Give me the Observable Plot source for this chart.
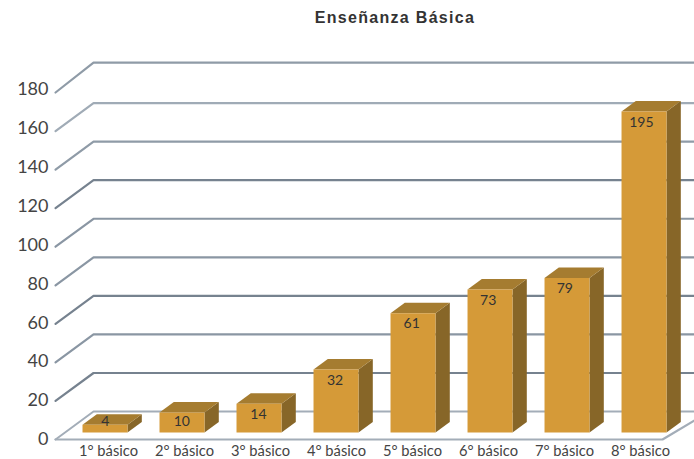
<!DOCTYPE html>
<html><head><meta charset="utf-8">
<script src="https://cdn.jsdelivr.net/npm/d3@7"></script>
<script src="https://cdn.jsdelivr.net/npm/@observablehq/plot@0.6"></script>
<style>
html,body{margin:0;padding:0;background:#fff}
#title{height:36px;width:694px;box-sizing:border-box;padding-left:96px;text-align:center;font:bold 16px/36px "Liberation Sans",sans-serif;letter-spacing:1.3px;color:#333}
svg{display:block}
</style></head><body>
<div id="title">Enseñanza Básica</div>
<div id="chart"></div>
<script>
const categories = ["1° básico","2° básico","3° básico","4° básico","5° básico","6° básico","7° básico","8° básico"];
const valueLabels = [4,10,14,32,61,73,79,195];
// bar heights as read against the axis (the last bar is labelled 195 but is drawn near 166)
const barHeights = [4.1,10.4,14.9,32.7,61.9,74.2,80.2,166.5];
const yTicks = [0,20,40,60,80,100,120,140,160,180];
const gridLevels = [20,40,60,80,100,120,140,160,181];
const gridShades = ["#76828f","#8a96a3","#76828f","#8a96a3","#8a96a3","#76828f","#8f9ba7","#a0abb6","#8f9ba7"];

// depth of the 3D construction, in axis units
const wallDX = 0.5, wallDY = 14.5, wallEnd = 7.72, floorEnd = 7.29, wallStart = -0.697;
const barDX = 0.188, barDY = 5.45, barHalf = 0.296, barBase = 3.6, step = 1.0132, shift = -0.046;

const poly = (id, pts) => pts.map(([x,y]) => ({id, x, y}));
const frontFaces=[], sideFaces=[], topFaces=[], labels=[];
categories.forEach((c,i)=>{
  const cx=i*step+shift, l=cx-barHalf, r=cx+barHalf, b=barBase, t=barBase+barHeights[i];
  frontFaces.push(...poly(i,[[l,b],[r,b],[r,t],[l,t]]));
  sideFaces.push(...poly(i,[[r,b],[r+barDX,b+barDY],[r+barDX,t+barDY],[r,t]]));
  topFaces.push(...poly(i,[[l,t],[r,t],[r+barDX,t+barDY],[l+barDX,t+barDY]]));
  labels.push({x:i*1.0079-0.043, y:Math.max(t-5.5,barBase+5.9), text:String(valueLabels[i])});
});
const grid = gridLevels.flatMap((v,k)=>poly(k,[[wallStart,Math.min(v,180)],[wallStart+wallDX,v+wallDY],[wallEnd,v+wallDY]]).map(p=>({...p,shade:gridShades[k]})));
const floorLine = poly("f",[[wallStart,0],[floorEnd,0],[wallEnd,0.7*wallDY]]);
const floorBack = poly("b",[[wallStart,0],[wallStart+wallDX,wallDY],[wallEnd,wallDY]]);

const line = (d,o)=>Plot.line(d,{x:"x",y:"y",z:"id",curve:"linear",...o});
const face = (d,fill)=>line(d,{fill,stroke:null});

const chart = Plot.plot({
  width:694, height:423,
  marginLeft:55, marginRight:0, marginTop:0, marginBottom:20,
  style:{background:"#fff", fontFamily:"Lato,sans-serif", color:"#444"},
  x:{type:"linear", domain:[0,7], range:[108,640]},
  y:{type:"linear", domain:[0,180], range:[403,56]},
  marks:[
    Plot.line(grid,{x:"x",y:"y",z:"id",stroke:"shade",strokeWidth:2.2}),
    line(floorBack,{stroke:"#a3adb8",strokeWidth:2}),
    line(floorLine,{stroke:"#a3adb8",strokeWidth:2.2}),
    face(sideFaces,"#876628"),
    face(topFaces,"#a57c30"),
    face(frontFaces,"#d59a38"),
    Plot.axisY(yTicks,{y:v=>v*1.0086, text:v=>String(v), tickSize:0, tickPadding:7, fontSize:18, dy:0, label:null, anchor:"left"}),
    Plot.axisX({ticks:d3.range(categories.length), tickFormat:i=>categories[i], tickSize:0, tickPadding:6, fontSize:14.7, label:null, anchor:"bottom"}),
    Plot.text(labels,{x:"x",y:"y",text:"text",fontSize:14,fill:"#333"})
  ]
});
document.getElementById("chart").append(chart);
</script>
</body></html>
